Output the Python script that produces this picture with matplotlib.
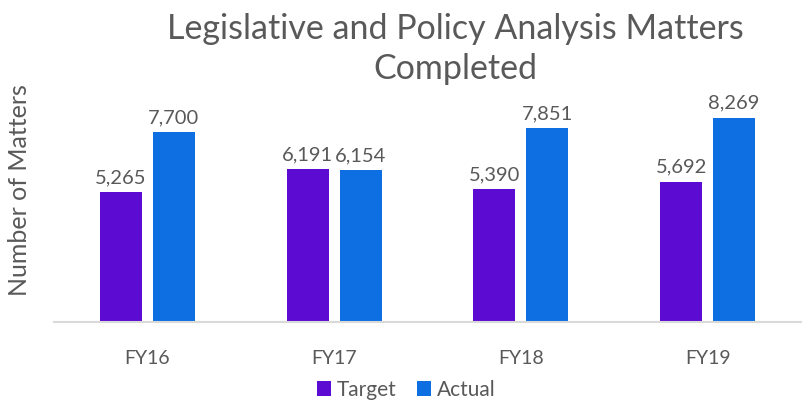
import matplotlib.pyplot as plt
import numpy as np

plt.rcParams['font.family'] = ['Lato', 'DejaVu Sans']

# 数据
years = ['FY16', 'FY17', 'FY18', 'FY19']
target = [5265, 6191, 5390, 5692]
actual = [7700, 6154, 7851, 8269]

grey = '#595959'
c_target = '#5B0BD2'
c_actual = '#0E6FE3'

fig = plt.figure(figsize=(8.03, 4.05), dpi=100)
ax = fig.add_axes([54 / 803, 1 - 322 / 405, 747 / 803, 222 / 405])

x = np.arange(len(years))
w = 0.225
off = 0.142
b1 = ax.bar(x - off, target, w, color=c_target, label='Target')
b2 = ax.bar(x + off, actual, w, color=c_actual, label='Actual')

for bars in (b1, b2):
    for b in bars:
        ax.text(b.get_x() + b.get_width() / 2, b.get_height() + 250,
                f'{int(b.get_height()):,}', ha='center', va='bottom',
                fontsize=14.5, color=grey)

ax.set_xlim(-0.5, 3.5)
ax.set_ylim(0, 9000)
ax.set_xticks(x)
ax.set_xticklabels(years, fontsize=14, color=grey)
ax.tick_params(axis='x', length=0, pad=20)
ax.set_yticks([])
for s in ['top', 'right', 'left']:
    ax.spines[s].set_visible(False)
ax.spines['bottom'].set_color('#d9d9d9')
ax.spines['bottom'].set_linewidth(1.5)

fig.text(455 / 803, 1 - 49 / 405, 'Legislative and Policy Analysis Matters\nCompleted',
         ha='center', va='center', fontsize=24.5, color=grey, linespacing=1.3)
fig.text(20 / 803, 1 - 190 / 405, 'Number of Matters', rotation=90,
         ha='center', va='center', fontsize=18, color=grey)

fig.legend(handles=[b1, b2], loc='center', bbox_to_anchor=(406 / 803, 1 - 390 / 405),
           ncol=2, frameon=False, fontsize=15, labelcolor=grey,
           handlelength=0.7, handleheight=0.7, handletextpad=0.25, columnspacing=1.0)

plt.savefig('out.png', dpi=100)
